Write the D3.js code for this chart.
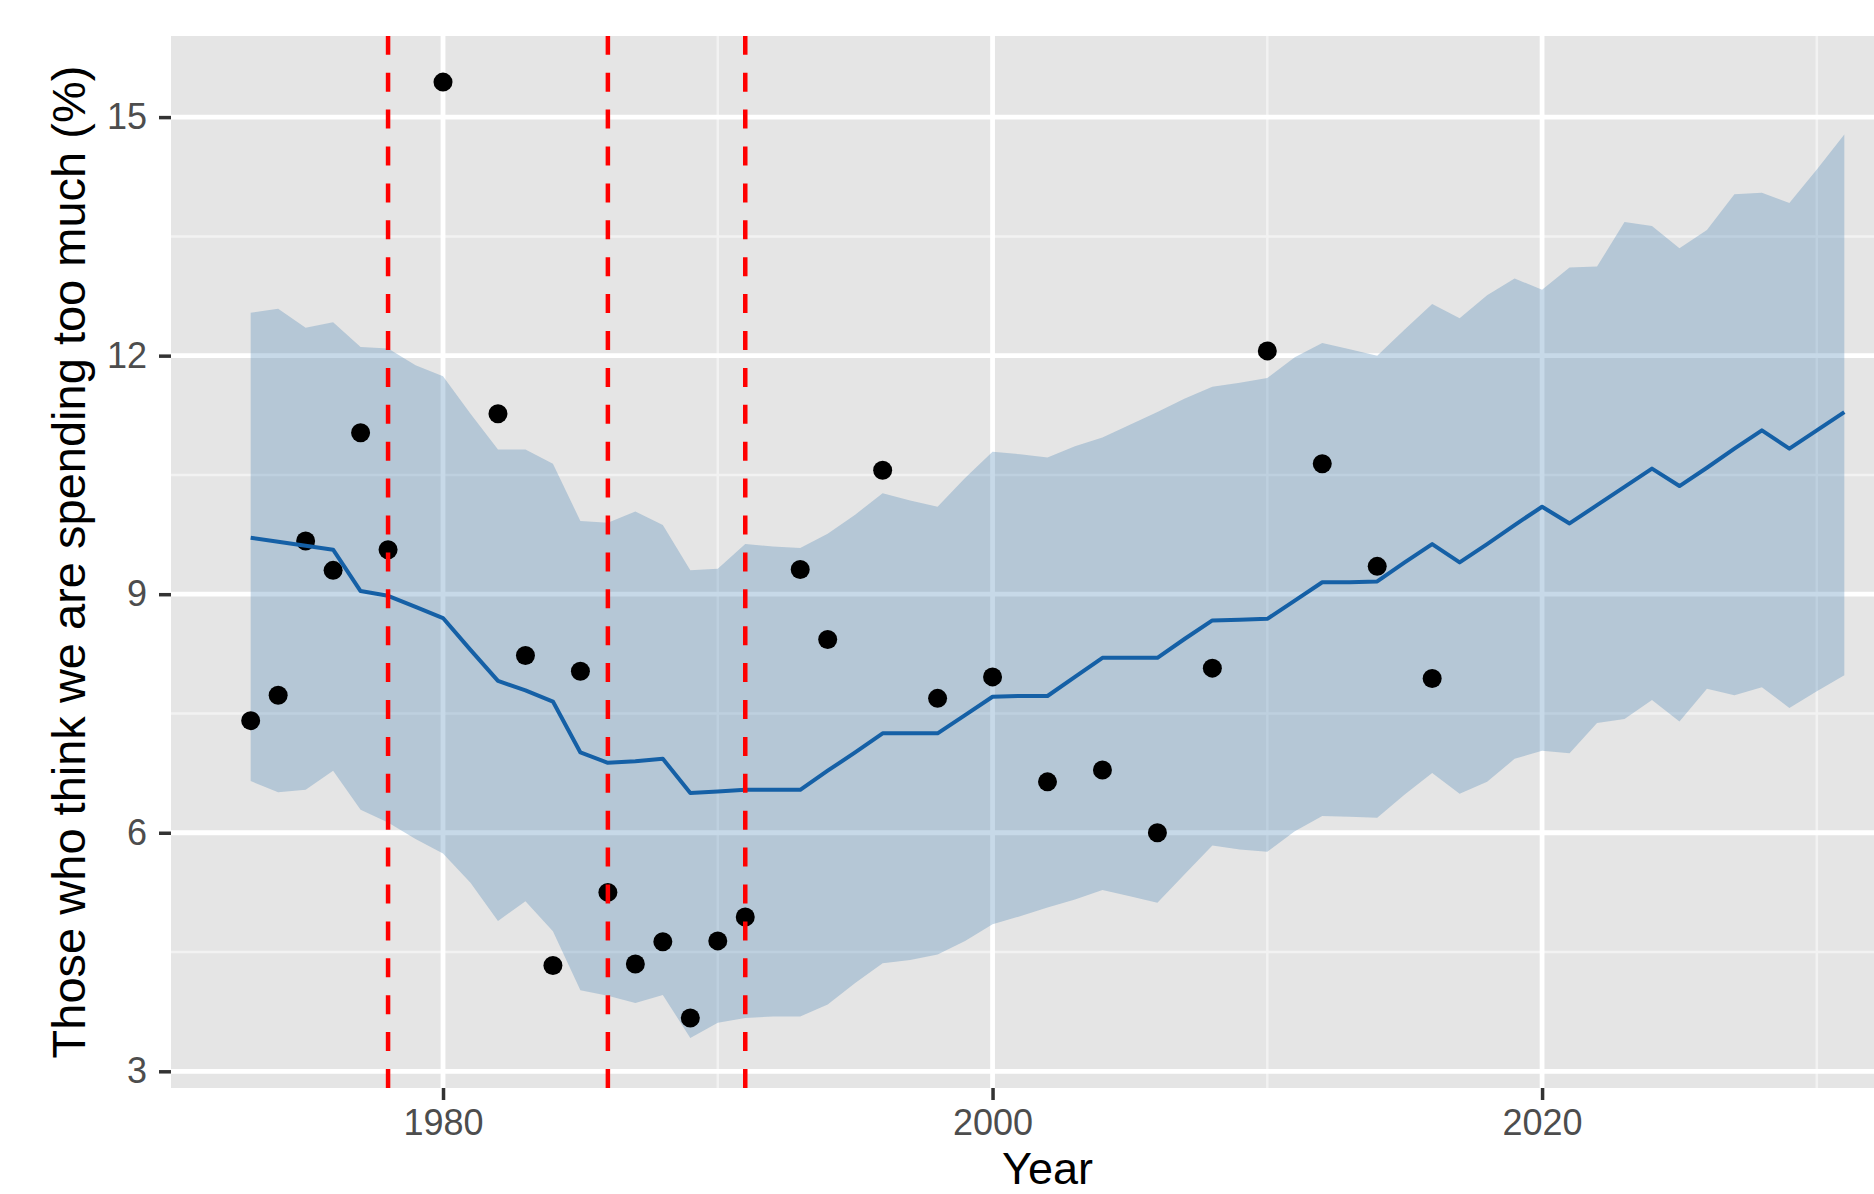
<!DOCTYPE html>
<html>
<head>
<meta charset="utf-8">
<script src="https://cdnjs.cloudflare.com/ajax/libs/d3/7.8.5/d3.min.js"></script>
<style>
  body { margin: 0; background: #fff; overflow: hidden; }
  svg { display: block; font-family: "Liberation Sans", Arial, sans-serif; }
</style>
</head>
<body>
<svg id="chart"></svg>
<script>
const WIDTH = 1874;
const HEIGHT = 1194;

// observed survey points
const obsYears = [1973, 1974, 1975, 1976, 1977, 1978, 1980, 1982, 1983, 1984, 1985, 1986, 1987, 1988, 1989,
  1990, 1991, 1993, 1994, 1996, 1998, 2000, 2002, 2004, 2006, 2008, 2010, 2012, 2014, 2016];
const obsValues = [7.41, 7.73, 9.67, 9.30, 11.03, 9.56, 15.44, 11.27, 8.23, 4.33, 8.03, 5.25, 4.35, 4.63, 3.67,
  4.64, 4.94, 9.31, 8.43, 10.56, 7.69, 7.96, 6.64, 6.79, 6.00, 8.07, 12.06, 10.64, 9.35, 7.94];

// fitted trend and interval, one value per year
const fitYears = [1973, 1974, 1975, 1976, 1977, 1978, 1979, 1980, 1981, 1982, 1983, 1984, 1985, 1986, 1987,
  1988, 1989, 1990, 1991, 1992, 1993, 1994, 1995, 1996, 1997, 1998, 1999, 2000, 2001, 2002,
  2003, 2004, 2005, 2006, 2007, 2008, 2009, 2010, 2011, 2012, 2013, 2014, 2015, 2016, 2017,
  2018, 2019, 2020, 2021, 2022, 2023, 2024, 2025, 2026, 2027, 2028, 2029, 2030, 2031];
const fitValues = [9.71, 9.66, 9.61, 9.56, 9.04, 8.98, 8.84, 8.70, 8.30, 7.91, 7.79, 7.65, 7.01, 6.88, 6.90,
  6.93, 6.50, 6.52, 6.54, 6.54, 6.54, 6.78, 7.01, 7.25, 7.25, 7.25, 7.48, 7.71, 7.72, 7.72,
  7.96, 8.20, 8.20, 8.20, 8.44, 8.67, 8.68, 8.69, 8.92, 9.15, 9.15, 9.16, 9.40, 9.63, 9.40,
  9.63, 9.87, 10.10, 9.89, 10.12, 10.35, 10.58, 10.36, 10.59, 10.83, 11.06, 10.83, 11.06, 11.29];
const upperValues = [12.54, 12.59, 12.35, 12.42, 12.11, 12.09, 11.88, 11.74, 11.27, 10.82, 10.82, 10.64, 9.92, 9.90, 10.04,
  9.87, 9.30, 9.32, 9.63, 9.60, 9.58, 9.76, 10.00, 10.27, 10.18, 10.10, 10.46, 10.79, 10.76, 10.72,
  10.86, 10.97, 11.13, 11.29, 11.46, 11.61, 11.66, 11.72, 11.98, 12.16, 12.08, 12.00, 12.33, 12.65, 12.47,
  12.76, 12.97, 12.83, 13.11, 13.12, 13.68, 13.63, 13.35, 13.58, 14.03, 14.05, 13.92, 14.34, 14.78];
const lowerValues = [6.65, 6.51, 6.54, 6.78, 6.29, 6.13, 5.92, 5.74, 5.37, 4.89, 5.14, 4.76, 4.02, 3.95, 3.86,
  3.96, 3.42, 3.61, 3.67, 3.69, 3.69, 3.84, 4.11, 4.36, 4.40, 4.47, 4.64, 4.85, 4.95, 5.06,
  5.16, 5.28, 5.20, 5.12, 5.48, 5.84, 5.79, 5.76, 6.02, 6.21, 6.20, 6.19, 6.48, 6.75, 6.49,
  6.64, 6.93, 7.03, 7.00, 7.38, 7.43, 7.67, 7.40, 7.81, 7.73, 7.83, 7.57, 7.78, 7.98];

// dashed reference years
const eventYears = [1978, 1986, 1991];

const xTicks = [1980, 2000, 2020];
const xMinor = [1990, 2010, 2030];
const yTicks = [3, 6, 9, 12, 15];
const yMinor = [4.5, 7.5, 10.5, 13.5];

const panel = {left: 171, top: 36, right: 1924, bottom: 1088};

const x = d3.scaleLinear().domain([1970.1, 2033.9]).range([panel.left, panel.right]);
const y = d3.scaleLinear().domain([2.79, 16.02]).range([panel.bottom, panel.top]);

const SVG = d3.select("#chart")
    .attr("width", WIDTH)
    .attr("height", HEIGHT)
    .attr("viewBox", `0 0 ${WIDTH} ${HEIGHT}`);

SVG.append("rect").attr("width", WIDTH).attr("height", HEIGHT).attr("fill", "#fff");

SVG.append("clipPath").attr("id", "panel-clip")
  .append("rect")
    .attr("x", panel.left).attr("y", panel.top)
    .attr("width", panel.right - panel.left).attr("height", panel.bottom - panel.top);

const plot = SVG.append("g").attr("clip-path", "url(#panel-clip)");

plot.append("rect")
    .attr("x", panel.left).attr("y", panel.top)
    .attr("width", panel.right - panel.left).attr("height", panel.bottom - panel.top)
    .attr("fill", "#E5E5E5");

// grid
plot.append("g").selectAll("line").data(yMinor).join("line")
    .attr("x1", panel.left).attr("x2", panel.right)
    .attr("y1", d => y(d)).attr("y2", d => y(d))
    .attr("stroke", "#F2F2F2").attr("stroke-width", 2.5);
plot.append("g").selectAll("line").data(xMinor).join("line")
    .attr("y1", panel.top).attr("y2", panel.bottom)
    .attr("x1", d => x(d)).attr("x2", d => x(d))
    .attr("stroke", "#F2F2F2").attr("stroke-width", 2.5);
plot.append("g").selectAll("line").data(yTicks).join("line")
    .attr("x1", panel.left).attr("x2", panel.right)
    .attr("y1", d => y(d)).attr("y2", d => y(d))
    .attr("stroke", "#fff").attr("stroke-width", 4.8);
plot.append("g").selectAll("line").data(xTicks).join("line")
    .attr("y1", panel.top).attr("y2", panel.bottom)
    .attr("x1", d => x(d)).attr("x2", d => x(d))
    .attr("stroke", "#fff").attr("stroke-width", 4.8);

const fit = fitYears.map((yr, i) => ({year: yr, value: fitValues[i], lo: lowerValues[i], hi: upperValues[i]}));
const obs = obsYears.map((yr, i) => ({year: yr, value: obsValues[i]}));

// interval ribbon
plot.append("path")
    .datum(fit)
    .attr("fill", "steelblue")
    .attr("fill-opacity", 0.3)
    .attr("d", d3.area().x(d => x(d.year)).y0(d => y(d.lo)).y1(d => y(d.hi)));

// observed points
plot.append("g").selectAll("circle").data(obs).join("circle")
    .attr("cx", d => x(d.year))
    .attr("cy", d => y(d.value))
    .attr("r", 9.5)
    .attr("fill", "#000");

// trend line
plot.append("path")
    .datum(fit)
    .attr("fill", "none")
    .attr("stroke", "#1560A6")
    .attr("stroke-width", 4)
    .attr("stroke-linejoin", "round")
    .attr("d", d3.line().x(d => x(d.year)).y(d => y(d.value)));

// event lines, dashes start at the bottom of the panel
plot.append("g").selectAll("line").data(eventYears).join("line")
    .attr("x1", d => x(d)).attr("x2", d => x(d))
    .attr("y1", panel.bottom).attr("y2", panel.top)
    .attr("stroke", "#FF0000")
    .attr("stroke-width", 4.5)
    .attr("stroke-dasharray", "19 17.9");

// axes
const xAxis = SVG.append("g")
    .attr("transform", `translate(0,${panel.bottom})`)
    .call(d3.axisBottom(x).tickValues(xTicks).tickFormat(d3.format("d")).tickSize(12).tickPadding(14));
const yAxis = SVG.append("g")
    .attr("transform", `translate(${panel.left},0)`)
    .call(d3.axisLeft(y).tickValues(yTicks).tickSize(12).tickPadding(12));

[xAxis, yAxis].forEach(ax => {
  ax.select(".domain").remove();
  ax.selectAll(".tick line").attr("stroke", "#333333").attr("stroke-width", 3.5);
  ax.selectAll(".tick text")
      .attr("fill", "#4D4D4D")
      .style("font-size", "36px")
      .style("font-family", "'Liberation Sans', Arial, sans-serif");
});
xAxis.selectAll(".tick text").attr("dy", null).attr("y", 47);

// titles
SVG.append("text")
    .attr("x", (panel.left + panel.right) / 2)
    .attr("y", 1184)
    .attr("text-anchor", "middle")
    .attr("fill", "#000")
    .style("font-size", "45px")
    .text("Year");

SVG.append("text")
    .attr("transform", `translate(85,${(panel.top + panel.bottom) / 2}) rotate(-90)`)
    .attr("text-anchor", "middle")
    .attr("fill", "#000")
    .style("font-size", "47px")
    .text("Those who think we are spending too much (%)");
</script>
</body>
</html>
